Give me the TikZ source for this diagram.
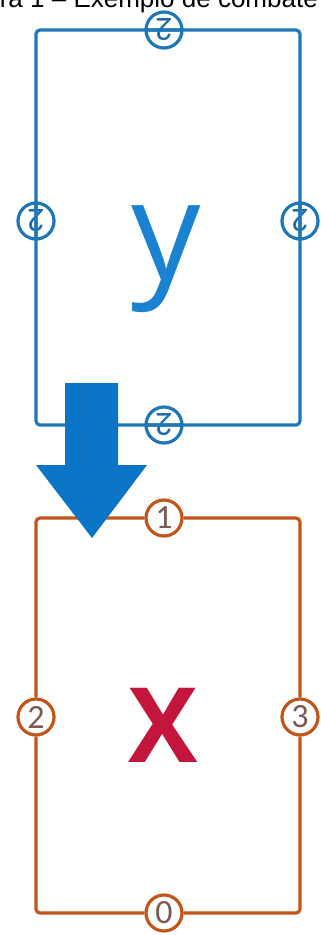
\documentclass[tikz,border=0pt]{standalone}
\usepackage{fontspec}
\setmainfont{Open Sans}
\newfontfamily\numfont{Carlito}
\newfontfamily\capfont{Liberation Sans}
\definecolor{lineblue}{HTML}{1F77B8}
\definecolor{arrowblue}{HTML}{0A74C6}
\definecolor{letterblue}{HTML}{1A82D0}
\definecolor{numblue}{HTML}{1F6CA8}
\definecolor{lineorange}{HTML}{C2561A}
\definecolor{numbrown}{HTML}{7A5A52}
\definecolor{letterred}{HTML}{C4163C}
\tikzset{
  port/.style={circle, draw, line width=3.2pt, fill=white, minimum size=36pt,
    inner sep=0pt, font=\numfont\fontsize{34}{34}\selectfont},
  blueport/.style={port, draw=lineblue, text=numblue, rotate=180},
  orangeport/.style={port, draw=lineorange, text=numbrown},
  boxline/.style={line width=3.2pt, rounded corners=4pt}
}
\begin{document}
\begin{tikzpicture}[x=1pt, y=-1pt]
  \fill[white] (0,0) rectangle (321,935);
  \useasboundingbox (0,0) rectangle (321,935);
  \clip (0,0) rectangle (321,935);

  % caption, cut by the top edge
  \node[anchor=base east, inner sep=0pt, font=\capfont\fontsize{26}{26}\selectfont]
    (caption) at (318,7) {Figura 1 –  Exemplo de combate};

  % upper box y
  \node[blueport] (bt) at (164,30)  {2};
  \node[blueport] (bl) at (36,221)  {2};
  \node[blueport] (br) at (300,221) {2};
  \node[blueport] (bb) at (164,425) {2};
  \draw[boxline, lineblue] (bt.west) -| (bl.north);
  \draw[boxline, lineblue] (bl.south) |- (bb.west);
  \draw[boxline, lineblue] (bb.east) -| (br.south);
  \draw[boxline, lineblue] (br.north) |- (bt.east);
  \node[anchor=base, inner sep=0pt, text=letterblue, font=\fontsize{138}{138}\selectfont]
    (ylabel) at (166,279) {y};

  % lower box X
  \node[orangeport] (ot) at (164,518) {1};
  \node[orangeport] (ol) at (36,717)  {2};
  \node[orangeport] (or) at (300,717) {3};
  \node[orangeport] (ob) at (164,913) {0};
  \draw[boxline, lineorange] (ot.west) -| (ol.north);
  \draw[boxline, lineorange] (ol.south) |- (ob.west);
  \draw[boxline, lineorange] (ob.east) -| (or.south);
  \draw[boxline, lineorange] (or.north) |- (ot.east);
  \node[anchor=base, inner sep=0pt, text=letterred, font=\bfseries\fontsize{104}{104}\selectfont]
    (xlabel) at (163,762) {X};

  % block arrow from y down to X
  \fill[arrowblue] (65,383) -- (118,383) -- (118,465) -- (147,465)
    -- (92,538) -- (36,465) -- (65,465) -- cycle;
\end{tikzpicture}
\end{document}
